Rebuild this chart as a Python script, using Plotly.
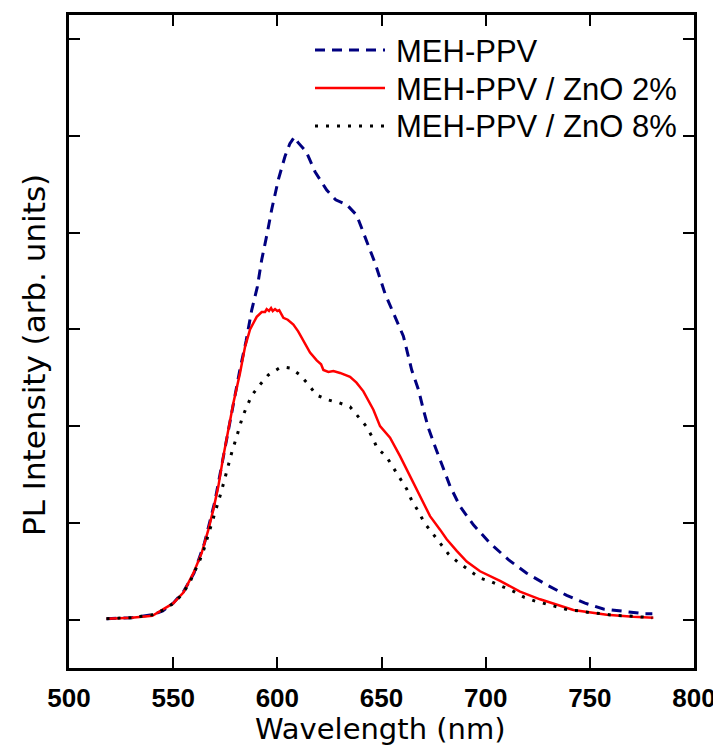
import plotly.graph_objects as go

# ---------------- data ----------------
wl_pure = [518, 530, 540, 545, 550, 555, 560, 565, 570, 575, 578, 582, 585, 587.7, 590.4,
           592.5, 595.2, 597.3, 600.5, 603.7, 606, 608.2, 610, 613.8, 618.1, 623.7, 628,
           633.3, 638.1, 642.1, 647, 651.7, 656.5, 660.5, 664.5, 667.7, 670.1, 672.5,
           675.7, 679.7, 682.9, 687.7, 694.1, 702.1, 710.9, 719.7, 729.3, 738.9, 747.7,
           756.5, 766.1, 776.5, 780]
pl_pure = [0.01, 0.02, 0.05, 0.09, 0.17, 0.29, 0.48, 0.79, 1.22, 1.79, 2.15, 2.58, 2.88, 3.2,
           3.44, 3.72, 4.0, 4.24, 4.55, 4.79, 4.92, 4.99, 4.93, 4.84, 4.63, 4.44, 4.34, 4.29,
           4.18, 3.96, 3.68, 3.37, 3.13, 2.93, 2.58, 2.38, 2.17, 1.98, 1.79, 1.57, 1.38, 1.17,
           0.98, 0.79, 0.62, 0.48, 0.36, 0.25, 0.17, 0.11, 0.086, 0.06, 0.06]

wl_zno2 = [518, 530, 540, 543.7, 550.1, 554.9, 559.7, 563.7, 566.9, 569.3, 571.7, 574.1,
           576.5, 578.9, 582.1, 584.5, 586.9, 590.1, 592.5, 594.1, 594.9, 596, 597, 597.8,
           598.9, 600, 600.9, 602.9, 605, 607.7, 610, 612.5, 615.7, 618.9, 621, 622.1, 624.5,
           626.9, 630.1, 634.9, 638, 641.3, 646.1, 649.3, 654.1, 658.9, 663.7, 668.5, 673.3,
           678.1, 681.3, 686.1, 690.9, 697.3, 706.9, 716.5, 726.1, 742.1, 758.1, 770.9, 780.5]
pl_zno2 = [0.01, 0.02, 0.04, 0.086, 0.17, 0.28, 0.48, 0.69, 0.93, 1.14, 1.38, 1.69, 1.96,
           2.24, 2.55, 2.82, 3.0, 3.13, 3.18, 3.18, 3.21, 3.19, 3.22, 3.19, 3.21, 3.19, 3.20,
           3.12, 3.10, 3.05, 2.98, 2.89, 2.76, 2.68, 2.64, 2.58, 2.56, 2.57, 2.55, 2.51, 2.45,
           2.36, 2.17, 2.0, 1.88, 1.69, 1.48, 1.27, 1.07, 0.93, 0.83, 0.71, 0.60, 0.50, 0.40,
           0.29, 0.21, 0.10, 0.05, 0.03, 0.02]

wl_zno8 = [518, 530, 540, 545.3, 550.9, 554.9, 558.1, 560.5, 562.9, 564.8, 566.4, 568.0,
           569.6, 571.4, 572.8, 574.2, 575.7, 576.9, 578.4, 580.2, 581.8, 583.2, 585.3, 587.8,
           591.7, 595.7, 600.9, 603.5, 606.4, 610.9, 614.9, 618.9, 624.5, 629.8, 634.9, 638.9,
           642.6, 645.5, 648.0, 652.2, 655.4, 658.9, 662.1, 664.5, 667.7, 670.6, 674.1, 678.1,
           682.1, 686.9, 692.2, 697.3, 702.9, 708.0, 713.6, 718.6, 724.0, 729.3, 734.6, 740.0,
           745.3, 750.6, 756.0, 761.3, 766.6, 772.0, 777.3, 780]
pl_zno8 = [0.01, 0.02, 0.05, 0.10, 0.18, 0.28, 0.39, 0.50, 0.62, 0.73, 0.84, 0.95, 1.07,
           1.19, 1.30, 1.41, 1.53, 1.64, 1.75, 1.87, 1.98, 2.09, 2.20, 2.32, 2.43, 2.53, 2.60,
           2.61, 2.60, 2.53, 2.43, 2.32, 2.27, 2.24, 2.20, 2.10, 2.0, 1.89, 1.77, 1.69, 1.58,
           1.46, 1.35, 1.23, 1.12, 1.0, 0.90, 0.79, 0.68, 0.59, 0.51, 0.43, 0.39, 0.34, 0.29,
           0.23, 0.19, 0.16, 0.13, 0.10, 0.09, 0.07, 0.06, 0.045, 0.04, 0.035, 0.025, 0.02]

series_names = ["MEH-PPV", "MEH-PPV / ZnO 2%", "MEH-PPV / ZnO 8%"]
series_colors = ["#000080", "#ff0000", "#000000"]
series_dash = ["10px,7px", "solid", "3px,8px"]
series_width = [3, 2.5, 3]

x_ticks = [500, 550, 600, 650, 700, 750, 800]
y_ticks = [0, 1, 2, 3, 4, 5, 6]

# ---------------- figure ----------------
OFF = 8                      # page body margin
W, H = 713, 738
# plot area in page pixels: x 69..694, y 15..668
ML = 69 - OFF
MT = 15 - OFF
MR = W - (694 - OFF)
MB = H - (668 - OFF)
PW, PH = W - ML - MR, H - MT - MB


def px_x(px):
    return (px - OFF - ML) / PW


def px_y(py):
    return (H - MB - (py - OFF)) / PH


fig = go.Figure()
for wl, pl, name, col, dash, lw in zip([wl_pure, wl_zno2, wl_zno8], [pl_pure, pl_zno2, pl_zno8],
                                       series_names, series_colors, series_dash, series_width):
    fig.add_trace(go.Scatter(x=wl, y=pl, mode="lines", name=name,
                             line=dict(color=col, width=lw, dash=dash), showlegend=False))

fig.update_layout(
    width=W, height=H,
    margin=dict(l=ML, r=MR, t=MT, b=MB, autoexpand=False),
    paper_bgcolor="white", plot_bgcolor="white",
    xaxis=dict(range=[500, 800], tickvals=x_ticks, ticktext=[str(v) for v in x_ticks],
               ticks="inside", ticklen=11, tickwidth=2, tickcolor="black",
               showline=True, linewidth=3, linecolor="black", mirror="ticks",
               showgrid=False, zeroline=False, automargin=False,
               tickfont=dict(family="Liberation Sans, Arial", size=26, color="black", weight="bold"),
               ticklabelstandoff=5),
    yaxis=dict(range=[-0.5, 6.25], tickvals=y_ticks, showticklabels=False,
               ticks="inside", ticklen=11, tickwidth=2, tickcolor="black",
               showline=True, linewidth=3, linecolor="black", mirror="ticks",
               showgrid=False, zeroline=False, automargin=False),
)

# axis titles
fig.add_annotation(text="Wavelength (nm)", xref="paper", yref="paper",
                   x=px_x(380), y=px_y(729), xanchor="center", yanchor="middle",
                   showarrow=False, font=dict(family="DejaVu Sans", size=29, color="black"))
fig.add_annotation(text="PL Intensity (arb. units)", xref="paper", yref="paper",
                   x=px_x(34), y=px_y(355), xanchor="center", yanchor="middle", textangle=-90,
                   showarrow=False, font=dict(family="DejaVu Sans", size=31, color="black"))

# legend drawn by hand to get long line samples
leg_rows = [50, 88, 126]
for name, col, dash, lw, row in zip(series_names, series_colors, series_dash, series_width, leg_rows):
    fig.add_shape(type="line", xref="paper", yref="paper",
                  x0=px_x(315), x1=px_x(385), y0=px_y(row), y1=px_y(row),
                  line=dict(color=col, width=lw, dash=dash))
    fig.add_annotation(text=name, xref="paper", yref="paper",
                       x=px_x(394), y=px_y(row + 1), xanchor="left", yanchor="middle",
                       showarrow=False, font=dict(family="Liberation Sans, Arial", size=31, color="black"))

fig.write_html("out.html")
